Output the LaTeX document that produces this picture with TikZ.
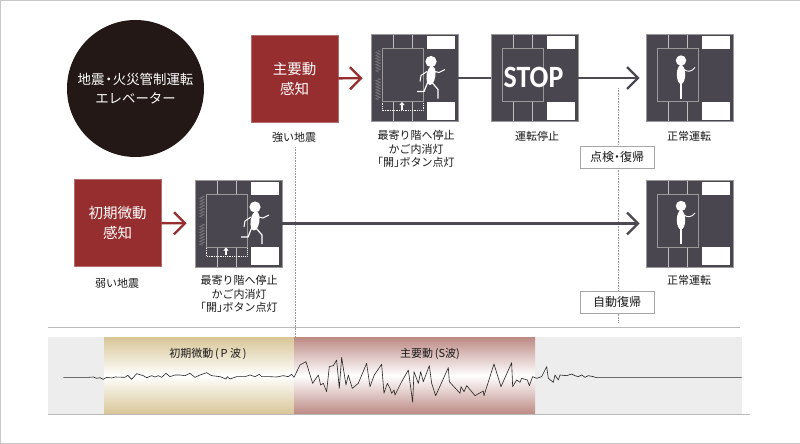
\documentclass[tikz,border=0pt]{standalone}
\usepackage{fontspec}
\usepackage{xcolor}
\usetikzlibrary{arrows.meta,decorations.pathmorphing}
\setmainfont{Noto Sans CJK JP}
\newfontfamily\stopfont{Carlito}

\begin{document}
\begin{tikzpicture}[x=1pt,y=-1pt,
    lbl/.style={font=\fontsize{11}{13.5}\selectfont,align=center,text=black!90,inner sep=0pt},
    panelbox/.style={draw=black!40,line width=0.6pt,fill=pdark,minimum size=87pt,inner sep=0pt},
    redbox/.style={draw=pred!70,line width=0.6pt,fill=pred,minimum size=87pt,inner sep=0pt,text=white,align=center,font=\fontsize{14.5}{20}\selectfont},
    notebox/.style={draw=black!35,line width=0.6pt,fill=white,minimum width=74pt,minimum height=22pt,inner sep=0pt,font=\fontsize{12}{13}\selectfont,text=black!90},
    redline/.style={draw=pred,line width=2.4pt,shorten >=8pt,-{Straight Barb[length=11pt,width=22pt]}},
    darkline/.style={draw=pline,line width=2.4pt},
    darkarrow/.style={darkline,shorten >=6pt,-{Straight Barb[length=11pt,width=22pt]}},
    guide/.style={draw=black!40,densely dotted,line width=0.6pt}]

    \definecolor{pdark}{HTML}{4A4650}
    \definecolor{pline}{HTML}{4C4A50}
    \definecolor{pred}{HTML}{962D2E}
    \definecolor{pcirc}{HTML}{231815}
    \definecolor{ptan}{HTML}{D8C697}
    \definecolor{prose}{HTML}{BC8A84}
    \definecolor{pband}{HTML}{EDEDED}

    \newcommand{\shaft}[3]{%
        \begin{scope}[shift={(#2,#3)}]
            \node[panelbox] (#1) at (43.5,43.5) {};
            \fill[white] (56,2) rectangle (84,15);
            \fill[white] (56,67) rectangle (84,85);
            \foreach \x in {22,41}{
                    \draw[black!25,line width=0.7pt] (\x,0.5) -- (\x,14);
                    \draw[black!25,line width=0.7pt] (\x,67) -- (\x,86.5);
                }
            \draw[black!40,line width=1pt] (11,14) rectangle (52,67);
        \end{scope}
    }
    \newcommand{\runner}[2]{%
        \begin{scope}[shift={(#1,#2)}]
            \foreach \y in {16,44}
            \draw[black!50,line width=0.5pt,decorate,decoration={zigzag,amplitude=2.4pt,segment length=3pt}] (7,\y) -- (7,\y+22);
            \draw[white,densely dotted,line width=0.8pt] (11,68) -- (11,76) -- (52,76) -- (52,68);
            \draw[white,line width=1.4pt,-{Triangle[width=5pt,length=3pt]}] (31,75) -- (31,67.5);
            \fill[white] (60,27) circle (5.6);
            \fill[white,rotate around={-8:(60,41)}] (60,41) ellipse (4.4 and 9.5);
            \draw[white,line width=1pt] (56,37) -- (50,41) -- (49,47);
            \draw[white,line width=1pt] (64,37) -- (68,38) -- (74,35);
            \draw[white,line width=1.2pt] (57,47) -- (53,57) -- (46,57);
            \draw[white,line width=1.2pt] (61,48) -- (67,55) -- (67,64);
        \end{scope}
    }
    \newcommand{\stander}[2]{%
        \begin{scope}[shift={(#1,#2)}]
            \fill[white] (35,26) circle (5.2);
            \fill[white] (35,40) ellipse (4.2 and 9.5);
            \draw[white,line width=1.1pt] (35,48) -- (35,64);
            \draw[white,line width=0.9pt] (38,35) .. controls (42,38) and (46,37) .. (49,33);
        \end{scope}
    }

    \useasboundingbox (0,0) rectangle (800,444);
    \draw[black!22,line width=1.4pt] (800,0.5) -- (0.5,0.5) -- (0.5,443.5) -- (800,443.5);

    \draw[black!27,line width=0.8pt] (48,327) -- (740,327);
    \fill[pband] (48,337) rectangle (742,414);
    \shade[top color=ptan,bottom color=ptan,middle color=white] (104,337) rectangle (294,414);
    \shade[top color=prose,bottom color=prose,middle color=white] (294,337) rectangle (535,414);
    \draw[black!27,line width=0.8pt] (48,414) -- (750,414);

    \coordinate (strongtop) at (295,147);
    \coordinate (strongend) at (295,337);
    \coordinate (guidetop) at (618,88);
    \coordinate (guideend) at (618,323);
    \draw[guide] (strongtop) -- (strongend);
    \draw[guide] (guidetop) -- (guideend);

    \node[circle,fill=pcirc,minimum size=137pt,inner sep=0pt,text=white,align=center,font=\fontsize{13.4}{19}\selectfont] (title) at (135.5,88.5) {地震\hspace{-2.5pt}・\hspace{-2.5pt}火災管制運転\\エレベーター};

    \node[redbox] (mainred) at (294.5,78.5) {主要動\\感知};
    \node[redbox] (firstred) at (117.5,223) {初期微動\\感知};

    \shaft{stopA}{371}{34.5}
    \runner{371}{34.5}
    \shaft{stopB}{491}{34.5}
    \node[font=\stopfont\bfseries\fontsize{31}{31}\selectfont,text=white,inner sep=0pt] (stoptext) at (533.5,77) {\scalebox{0.9}[1]{STOP}};
    \shaft{normA}{646}{34.5}
    \stander{646}{34.5}
    \shaft{stopC}{195}{180}
    \runner{195}{180}
    \shaft{normB}{646}{180}
    \stander{646}{180}

    \draw[redline] (mainred) -- (stopA);
    \draw[redline] (firstred) -- (stopC);
    \draw[darkline] (stopA) -- (stopB);
    \draw[darkarrow] (stopB) -- (normA);
    \draw[darkarrow] (stopC) -- (normB);

    \node[lbl] (strong) at (294,137) {強い地震};
    \node[lbl,anchor=north] (nearA) at (416,130.5) {最寄り階へ停止\\かご内消灯\\\hspace{-5.5pt}「開」\hspace{-5.5pt}ボタン点灯};
    \node[lbl] (halt) at (537,136) {運転停止};
    \node[lbl] (normtextA) at (689,136) {正常運転};
    \node[lbl] (weak) at (117,283) {弱い地震};
    \node[lbl,anchor=north] (nearB) at (239,275.5) {最寄り階へ停止\\かご内消灯\\\hspace{-5.5pt}「開」\hspace{-5.5pt}ボタン点灯};
    \node[lbl] (normtextB) at (689,280) {正常運転};

    \node[notebox] (check) at (617,157) {点検\hspace{-3pt}・\hspace{-3pt}復帰};
    \node[notebox] (auto) at (617,302) {自動復帰};

    \node[lbl] (pwave) at (208,354) {初期微動\,(\,P 波\,)};
    \node[lbl] (swave) at (430,354) {主要動\,(S波)};

    \begin{scope}[shift={(40,325)},x=0.3333pt,y=-0.3333pt]
        \draw[black!85,line width=0.6pt,line join=round] (70,157) -- (145,157) -- (160,156) -- (170,160) -- (180,158) -- (190,163) -- (200,157) -- (215,159) -- (225,156) -- (255,157) -- (263,151) -- (275,163) -- (290,146) -- (310,152) -- (320,158) -- (335,152) -- (345,156) -- (355,152) -- (365,157) -- (378,145) -- (390,155) -- (405,150) -- (420,150) -- (435,152) -- (450,145) -- (465,157) -- (480,150) -- (500,143) -- (515,152) -- (540,155) -- (558,162) -- (562,155) -- (570,162) -- (590,155) -- (615,155) -- (630,150) -- (645,155) -- (658,148) -- (665,155) -- (690,155) -- (710,156) -- (730,152) -- (745,155) -- (755,148) -- (762,157) -- (780,120) -- (798,110) -- (818,175) -- (835,150) -- (842,180) -- (850,175) -- (860,200) -- (868,125) -- (880,122) -- (890,105) -- (898,190) -- (905,97) -- (918,180) -- (925,150) -- (937,190) -- (955,175) -- (980,115) -- (990,185) -- (1003,150) -- (1025,118) -- (1032,205) -- (1042,175) -- (1050,190);
    \end{scope}
    \begin{scope}[shift={(390,325)},x=0.3333pt,y=-0.3333pt]
        \draw[black!85,line width=0.6pt,line join=round] (0,190) -- (5,205) -- (12,195) -- (15,210) -- (35,170) -- (55,135) -- (68,232) -- (72,140) -- (85,175) -- (92,140) -- (100,170) -- (118,122) -- (125,175) -- (137,212) -- (175,128) -- (178,170) -- (210,205) -- (213,185) -- (222,200) -- (230,182) -- (255,212) -- (280,198) -- (282,212) -- (312,117) -- (333,185) -- (365,113) -- (368,185) -- (380,165) -- (390,172) -- (395,160) -- (412,165) -- (418,182) -- (428,155) -- (440,160) -- (455,155) -- (470,125) -- (475,160) -- (490,172) -- (495,150) -- (505,165) -- (510,150) -- (530,152) -- (545,147) -- (555,152) -- (565,155) -- (575,150) -- (585,157) -- (595,152) -- (610,155) -- (620,158) -- (1055,158);
    \end{scope}

\end{tikzpicture}
\end{document}
